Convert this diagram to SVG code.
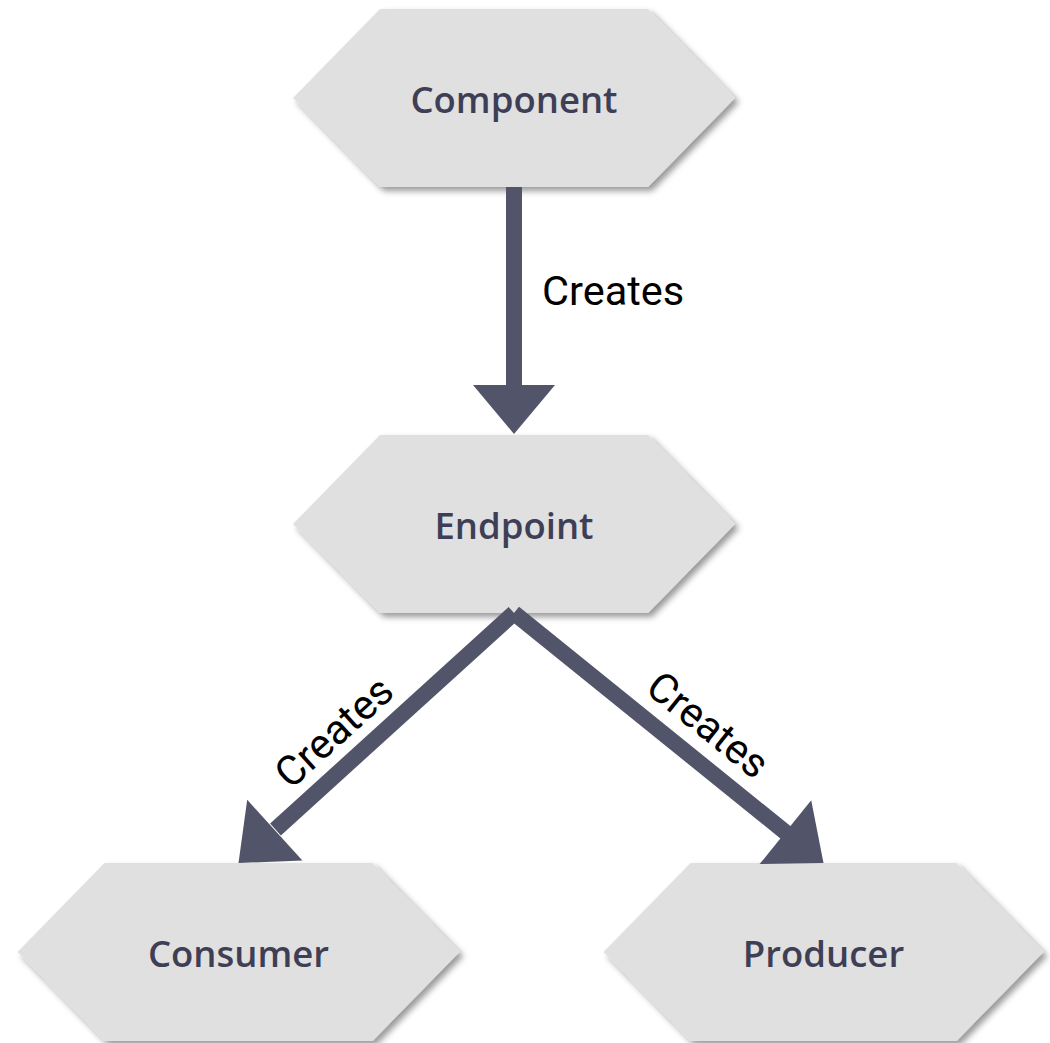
<svg xmlns="http://www.w3.org/2000/svg" width="1050" height="1043" viewBox="0 0 1050 1043">
<defs>
<filter id="sh" x="-10%" y="-10%" width="125%" height="130%">
<feDropShadow dx="4" dy="4" stdDeviation="3" flood-color="#000" flood-opacity="0.4"/>
</filter>
<style>
.hex{fill:#e0e0e0;filter:url(#sh);}
.nt{font-family:"Open Sans","Noto Sans",sans-serif;font-weight:600;font-size:36.5px;fill:#3e3f56;text-anchor:middle;}
.ln{stroke:#525569;stroke-width:16;fill:none;}
.ah{fill:#525569;}
.lb{font-family:Roboto,"Liberation Sans",sans-serif;font-size:41.5px;fill:#000;}
</style>
</defs>
<rect width="1050" height="1043" fill="#fff"/>
<g id="node-component">
<polygon class="hex" points="293,98 380,9 648,9 735,98 648,187 380,187"/>
<text class="nt" x="514" y="113">Component</text>
</g>
<g id="node-endpoint">
<polygon class="hex" points="293,524 380,435 648,435 735,524 648,613 380,613"/>
<text class="nt" x="514" y="539">Endpoint</text>
</g>
<g id="node-consumer">
<polygon class="hex" points="17.5,952 104.5,863 372.5,863 459.5,952 372.5,1041 104.5,1041"/>
<text class="nt" x="238.5" y="967">Consumer</text>
</g>
<g id="node-producer">
<polygon class="hex" points="603.5,952 690.5,863 956.5,863 1043.5,952 956.5,1041 690.5,1041"/>
<text class="nt" x="823.5" y="967">Producer</text>
</g>
<g id="connectors">
<line class="ln" x1="514" y1="187" x2="514" y2="386"/>
<polygon class="ah" points="473,385 555,385 514,434"/>
<text class="lb" x="542" y="305">Creates</text>
<line class="ln" x1="514" y1="613" x2="275.5" y2="829.5"/>
<polygon class="ah" points="302.4,860.5 247.2,799.7 238.5,863"/>
<text class="lb" text-anchor="middle" transform="translate(334,732) rotate(-42.2)" x="0" y="14">Creates</text>
<line class="ln" x1="514" y1="613" x2="786" y2="832.7"/>
<polygon class="ah" points="759.6,864.1 811.2,800.3 823.5,863"/>
<text class="lb" text-anchor="middle" transform="translate(708,725) rotate(38.9)" x="0" y="14">Creates</text>
</g>
</svg>
